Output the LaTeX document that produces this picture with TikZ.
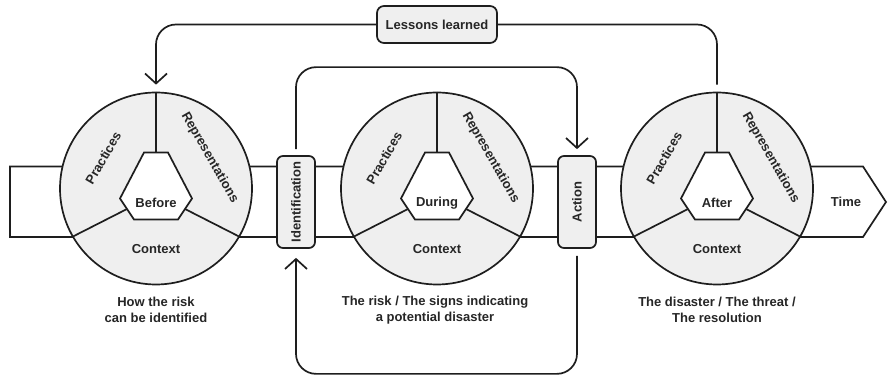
\documentclass[tikz,border=0pt]{standalone}
\usepackage{fontspec}
\setmainfont{Liberation Sans}
\usepackage{graphicx}
\usetikzlibrary{calc,arrows.meta}
\definecolor{seg}{HTML}{EFEFEF}
\definecolor{ink}{HTML}{1E1E1E}
\definecolor{txt}{HTML}{262626}
\tikzset{
  every node/.style={font=\fontsize{13}{16}\selectfont\bfseries, text=txt},
  ln/.style={draw=ink, line width=1.7pt},
  disc/.style={circle, ln, fill=seg, minimum size=192pt, inner sep=0pt},
  tag/.style={rectangle, rounded corners=6pt, ln, fill=seg, inner sep=0pt},
  barb/.style={-{Straight Barb[length=10pt,width=22pt]}},
  link/.style={ln, rounded corners=20pt},
}
\newcommand\stagedisc[3]{%
  \node[disc] (#1) at (#2,186.5) {};
  \draw[ln] (#1.90) -- ($(#1)+(0,36)$);
  \draw[ln] (#1.210) -- ($(#1)+(-29,-20.5)$);
  \draw[ln] (#1.330) -- ($(#1)+(29,-20.5)$);
  \draw[ln, fill=white] ($(#1)+(-12,36)$) -- ($(#1)+(12,36)$) -- ($(#1)+(36,-10)$)
     -- ($(#1)+(22,-31)$) -- ($(#1)+(-22,-31)$) -- ($(#1)+(-36,-10)$) -- cycle;
  \node (#1l) at ($(#1)+(0,-14.5)$) {#3};
  \node[rotate=60] (#1p) at ($(#1)+(150:61)$) {Practices};
  \node[rotate=-60] (#1r) at ($(#1)+(30:62)$) {Representations};
  \node (#1c) at ($(#1)+(270:61)$) {Context};
}
\begin{document}
\begin{tikzpicture}[x=1pt,y=1pt]
\useasboundingbox (0,0) rectangle (889,375);
% time band
\draw[ln, fill=white] (10,138) -- (863,138) -- (886,173) -- (863,208.5) -- (10,208.5) -- cycle;
\node (time) at (846,173) {Time};
% stages
\stagedisc{c1}{156}{Before}
\stagedisc{c2}{437}{During}
\stagedisc{c3}{717}{After}
% boxes
\node[tag, minimum width=38pt, minimum height=92pt] (ident) at (296,173) {\rotatebox{90}{Identification}};
\node[tag, minimum width=38pt, minimum height=92pt] (action) at (577,173) {\rotatebox{90}{Action}};
\node[tag, rounded corners=7pt, minimum width=120pt, minimum height=37pt] (lessons) at (437,350.5) {Lessons learned};
% captions
\node[align=center] (t1) at (156,65) {How the risk\\can be identified};
\node[align=center] (t2) at (435,65) {The risk / The signs indicating\\a potential disaster};
\node[align=center] (t3) at (717,65) {The disaster / The threat /\\The resolution};
% connectors
\draw[link] (lessons.east) -- (c3.north |- lessons.east) -- ([yshift=7pt]c3.north);
\draw[link, barb] (lessons.west) -- (c1.north |- lessons.west) -- ([yshift=7pt]c1.north);
\draw[link, barb] ([yshift=6pt]ident.north) -- ([yshift=88pt]ident.north)
   -- ([yshift=88pt]action.north) -- ([yshift=6pt]action.north);
\draw[link, barb] ([yshift=-7pt]action.south) -- ([yshift=-125pt]action.south)
   -- ([yshift=-125pt]ident.south) -- ([yshift=-9pt]ident.south);
\end{tikzpicture}
\end{document}
